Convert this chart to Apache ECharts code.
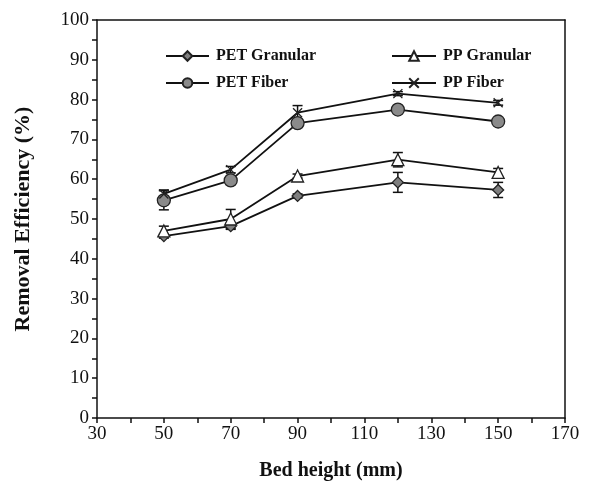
<!DOCTYPE html>
<html>
<head>
<meta charset="utf-8">
<script src="https://cdn.jsdelivr.net/npm/echarts@6/dist/echarts.min.js"></script>
<style>
  html, body { margin: 0; padding: 0; background: #fff; }
  #chart { width: 603px; height: 481px; }
</style>
</head>
<body>
<div id="chart"></div>
<script>
var bedHeight = [50, 70, 90, 120, 150];

var petGranular = [45.7, 48.2, 55.8, 59.2, 57.3];
var ppGranular = [47.0, 50.0, 60.8, 64.9, 61.7];
var petFiber = [54.7, 59.7, 74.1, 77.5, 74.5];
var ppFiber = [56.3, 62.4, 76.7, 81.5, 79.2];

var petGranularErr = [0.5, 0.8, 0.5, 2.5, 1.9];
var ppGranularErr = [1.2, 2.4, 0.5, 1.8, 1.0];
var petFiberErr = [2.4, 1.0, 0.8, 0.5, 0.5];
var ppFiberErr = [1.0, 0.8, 1.8, 0.5, 0.6];

var serif = 'Liberation Serif';
var chart = echarts.init(document.getElementById('chart'));

function pairs(ys) {
  return bedHeight.map(function (x, i) { return [x, ys[i]]; });
}

function errData(ys, es) {
  return bedHeight.map(function (x, i) { return [x, ys[i] - es[i], ys[i] + es[i]]; });
}

function errSeries(ys, es) {
  return {
    type: 'custom',
    silent: true,
    z: 1,
    data: errData(ys, es),
    renderItem: function (params, api) {
      var lo = api.coord([api.value(0), api.value(1)]);
      var hi = api.coord([api.value(0), api.value(2)]);
      var w = 5;
      var st = { stroke: '#111', lineWidth: 1.5 };
      return {
        type: 'group',
        children: [
          { type: 'line', shape: { x1: lo[0], y1: lo[1], x2: hi[0], y2: hi[1] }, style: st },
          { type: 'line', shape: { x1: lo[0] - w, y1: lo[1], x2: lo[0] + w, y2: lo[1] }, style: st },
          { type: 'line', shape: { x1: hi[0] - w, y1: hi[1], x2: hi[0] + w, y2: hi[1] }, style: st }
        ]
      };
    }
  };
}

function lineSeries(name, ys, symbol, size, fill) {
  return {
    name: name,
    type: 'line',
    data: pairs(ys),
    symbol: symbol,
    symbolSize: size,
    showAllSymbol: true,
    z: 3,
    lineStyle: { color: '#111', width: 1.8 },
    itemStyle: { color: fill, borderColor: '#222', borderWidth: 1.3, opacity: 1 },
    emphasis: { disabled: true }
  };
}

var legendText = { fontFamily: serif, fontWeight: 'bold', fontSize: 16, color: '#111', padding: [0, 0, 0, 2] };
var tickStyle = { color: '#111', width: 1.5 };

// plain axes on top and right close the frame
var frameAxis = {
  show: true,
  axisLine: { show: true, onZero: false, lineStyle: tickStyle },
  axisTick: { show: false },
  axisLabel: { show: false },
  splitLine: { show: false }
};

var option = {
  animation: false,
  backgroundColor: '#fff',
  grid: { left: 97, right: 38, top: 20, bottom: 63, outerBoundsMode: 'none' },
  legend: [
    {
      data: ['PET Granular', 'PET Fiber'],
      orient: 'vertical',
      left: 160,
      top: 43,
      itemWidth: 43,
      itemHeight: 12,
      itemGap: 11,
      textStyle: legendText
    },
    {
      data: ['PP Granular', 'PP Fiber'],
      orient: 'vertical',
      left: 386,
      top: 43,
      itemWidth: 44,
      itemHeight: 12,
      itemGap: 11,
      textStyle: legendText
    }
  ],
  xAxis: [
    {
      type: 'value',
      min: 30,
      max: 170,
      interval: 10,
      name: 'Bed height (mm)',
      nameLocation: 'middle',
      nameGap: 43,
      nameTextStyle: { fontFamily: serif, fontWeight: 'bold', fontSize: 20, color: '#111' },
      axisLine: { show: true, onZero: false, lineStyle: tickStyle },
      axisTick: { show: true, inside: false, length: 5, lineStyle: tickStyle },
      axisLabel: {
        fontFamily: serif, fontSize: 19, color: '#111', margin: 7,
        formatter: function (v) { return (v - 30) % 20 === 0 ? String(v) : ''; }
      },
      splitLine: { show: false }
    },
    Object.assign({ type: 'value', position: 'top', min: 30, max: 170 }, frameAxis)
  ],
  yAxis: [
    {
      type: 'value',
      min: 0,
      max: 100,
      interval: 5,
      name: 'Removal Efficiency (%)',
      nameLocation: 'middle',
      nameGap: 63,
      nameTextStyle: { fontFamily: serif, fontWeight: 'bold', fontSize: 22, color: '#111' },
      axisLine: { show: true, onZero: false, lineStyle: tickStyle },
      axisTick: { show: true, inside: false, length: 5, lineStyle: tickStyle },
      axisLabel: {
        fontFamily: serif, fontSize: 19, color: '#111', margin: 8,
        formatter: function (v) { return v % 10 === 0 ? String(v) : ''; }
      },
      splitLine: { show: false }
    },
    Object.assign({ type: 'value', position: 'right', min: 0, max: 100 }, frameAxis)
  ],
  series: [
    errSeries(petGranular, petGranularErr),
    errSeries(ppGranular, ppGranularErr),
    errSeries(petFiber, petFiberErr),
    errSeries(ppFiber, ppFiberErr),
    lineSeries('PET Granular', petGranular, 'diamond', 11, '#7f7f7f'),
    lineSeries('PP Granular', ppGranular, 'triangle', 12, '#ffffff'),
    lineSeries('PET Fiber', petFiber, 'circle', 13, '#8a8a8a'),
    lineSeries('PP Fiber', ppFiber, 'path://M0,0L10,10M10,0L0,10', 9, '#111')
  ]
};

chart.setOption(option);
</script>
</body>
</html>
